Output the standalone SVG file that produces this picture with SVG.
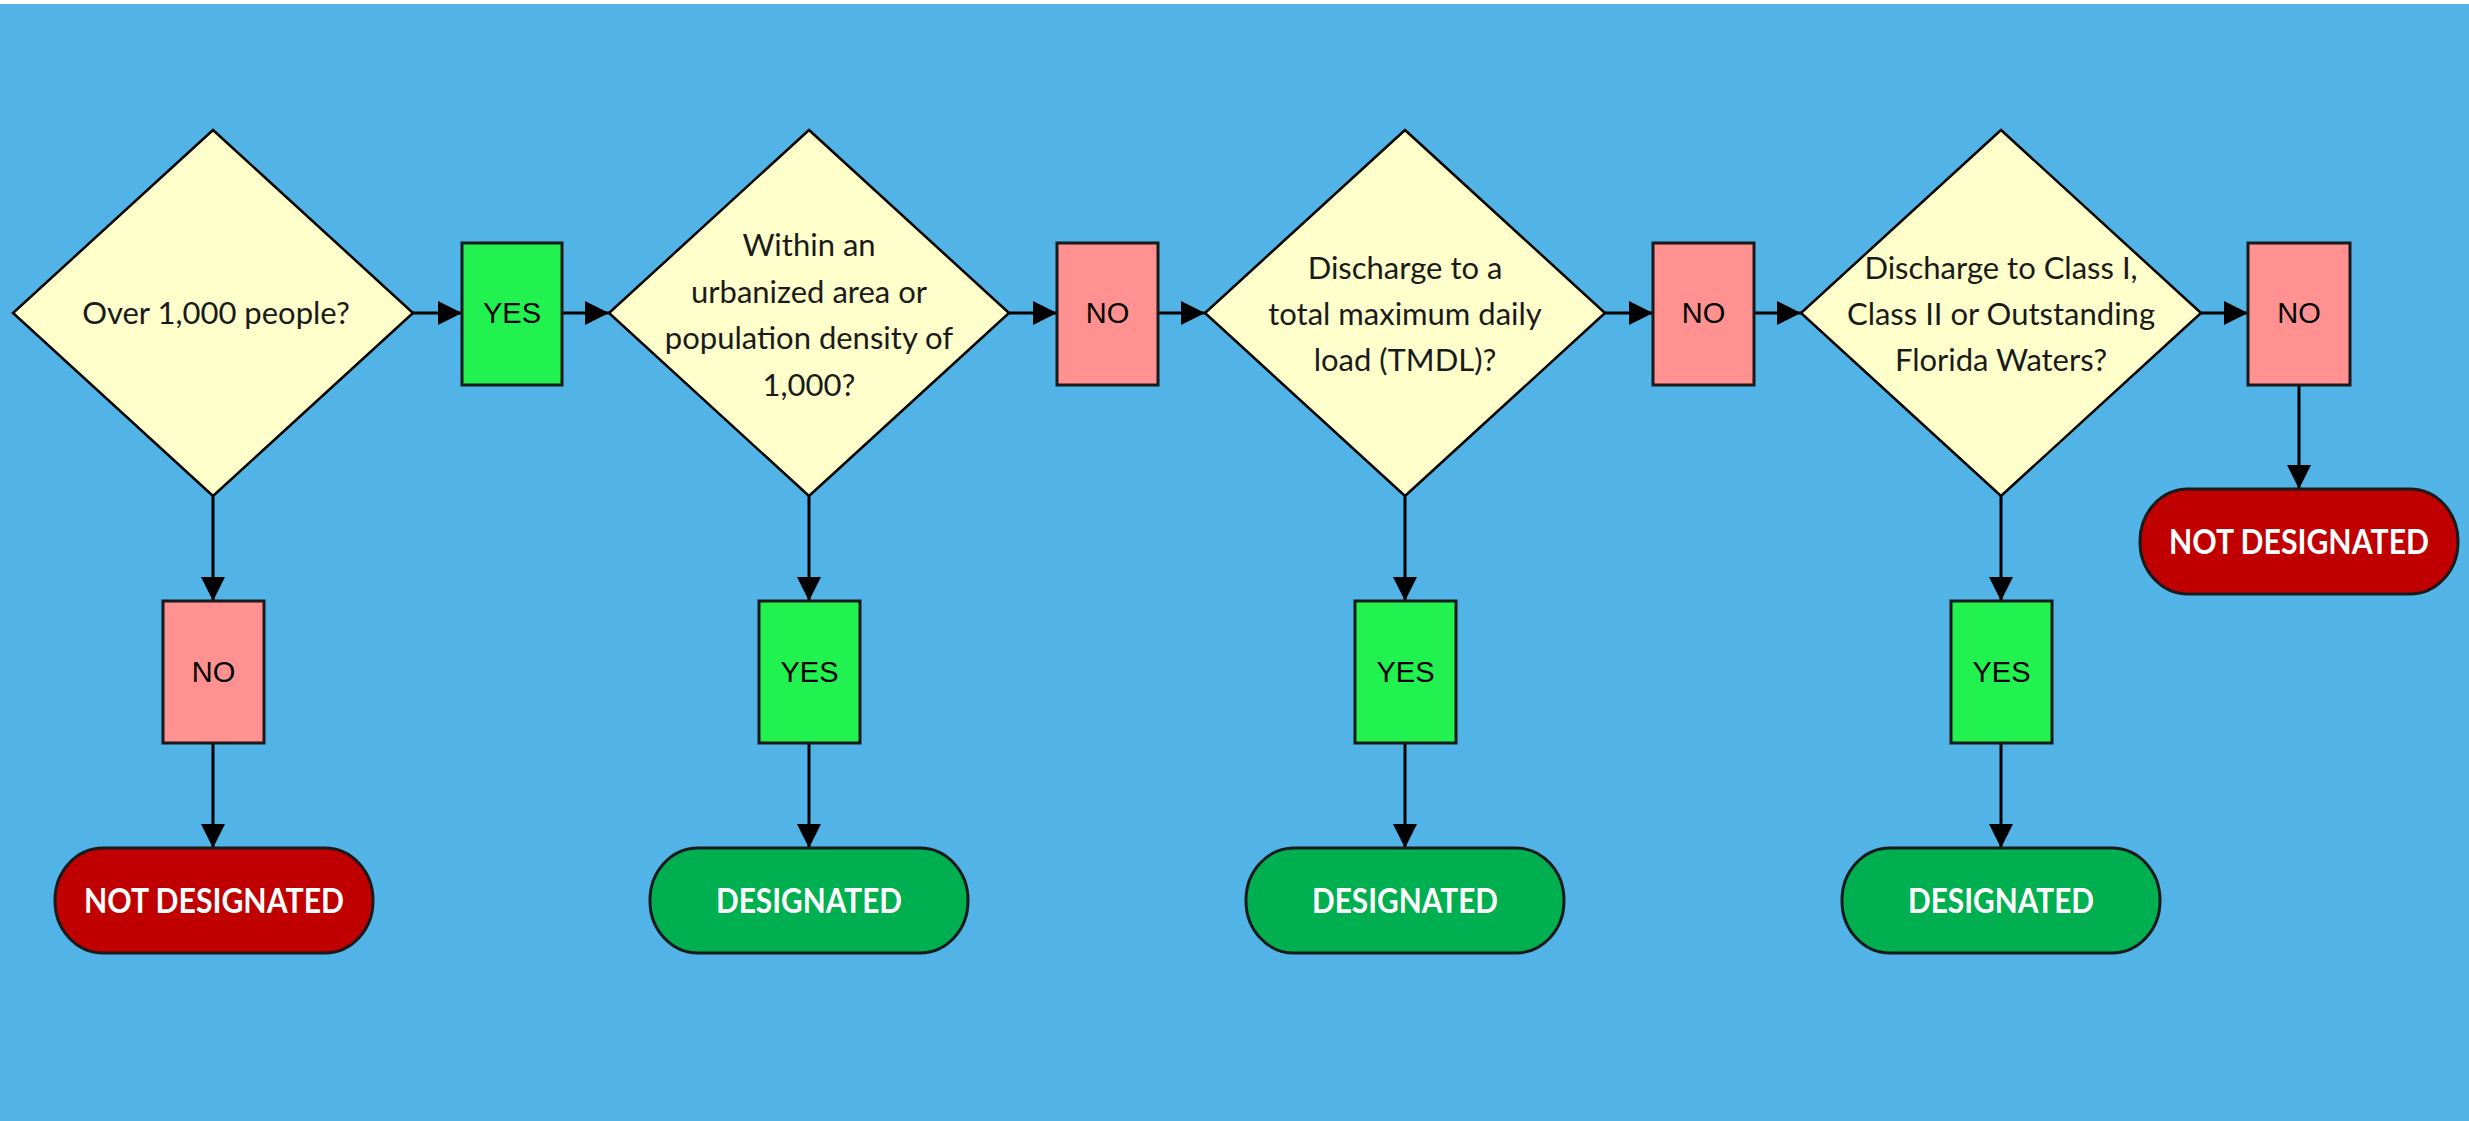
<svg xmlns="http://www.w3.org/2000/svg" width="2469" height="1121" viewBox="0 0 2469 1121">
<defs>
<marker id="ah" markerUnits="userSpaceOnUse" markerWidth="24" markerHeight="24" viewBox="0 0 24 24" refX="24" refY="12" orient="auto">
<path d="M0,0 L24,12 L0,24 z" fill="#000"/>
</marker>
</defs>
<style>
.dia{fill:#FFFFCC;stroke:#000;stroke-width:2.5}
.yes{fill:#22F24F;stroke:#1a1a1a;stroke-width:3}
.no{fill:#FF9191;stroke:#1a1a1a;stroke-width:3}
.tr{fill:#C00000;stroke:#1a1a1a;stroke-width:3}
.tg{fill:#00AF50;stroke:#1a1a1a;stroke-width:3}
.q{font-family:Lato,"Open Sans",sans-serif;font-size:31px;fill:#1a1a1a;text-anchor:middle}
.lbl{font-family:"Liberation Sans",Arial,sans-serif;font-size:29px;fill:#000;text-anchor:middle}
.term{font-family:Lato,"Open Sans",sans-serif;font-weight:bold;font-size:35px;fill:#fff;text-anchor:middle}
.c{stroke:#000;stroke-width:3;fill:none;marker-end:url(#ah)}
</style>
<rect x="0" y="0" width="2469" height="1121" fill="#51B3E6"/>
<rect x="0" y="0" width="2469" height="4" fill="#fff"/>

<g id="connectors">
<line class="c" x1="413" y1="313" x2="462" y2="313"/>
<line class="c" x1="562" y1="313" x2="609" y2="313"/>
<line class="c" x1="1009" y1="313" x2="1057" y2="313"/>
<line class="c" x1="1158" y1="313" x2="1205" y2="313"/>
<line class="c" x1="1605" y1="313" x2="1653" y2="313"/>
<line class="c" x1="1754" y1="313" x2="1801" y2="313"/>
<line class="c" x1="2201" y1="313" x2="2248" y2="313"/>
<line class="c" x1="2299" y1="385" x2="2299" y2="489"/>
<line class="c" x1="213" y1="496" x2="213" y2="601"/>
<line class="c" x1="213" y1="743" x2="213" y2="848"/>
<line class="c" x1="809" y1="496" x2="809" y2="601"/>
<line class="c" x1="809" y1="743" x2="809" y2="848"/>
<line class="c" x1="1405" y1="496" x2="1405" y2="601"/>
<line class="c" x1="1405" y1="743" x2="1405" y2="848"/>
<line class="c" x1="2001" y1="496" x2="2001" y2="601"/>
<line class="c" x1="2001" y1="743" x2="2001" y2="848"/>
</g>

<g id="q1">
<polygon class="dia" points="213,130 413,313 213,496 13,313"/>
<text class="q" x="216" y="324">Over 1,000 people?</text>
</g>
<g id="yes1">
<rect class="yes" x="462" y="243" width="100" height="142"/>
<text class="lbl" x="512" y="323">YES</text>
</g>
<g id="q2">
<polygon class="dia" points="809,130 1009,313 809,496 609,313"/>
<text class="q" x="809" y="256">Within an</text>
<text class="q" x="809" y="303">urbanized area or</text>
<text class="q" x="809" y="349">population density of</text>
<text class="q" x="809" y="396">1,000?</text>
</g>
<g id="no2">
<rect class="no" x="1057" y="243" width="101" height="142"/>
<text class="lbl" x="1107.5" y="323">NO</text>
</g>
<g id="q3">
<polygon class="dia" points="1405,130 1605,313 1405,496 1205,313"/>
<text class="q" x="1405" y="279">Discharge to a</text>
<text class="q" x="1405" y="325">total maximum daily</text>
<text class="q" x="1405" y="371">load (TMDL)?</text>
</g>
<g id="no3">
<rect class="no" x="1653" y="243" width="101" height="142"/>
<text class="lbl" x="1703.5" y="323">NO</text>
</g>
<g id="q4">
<polygon class="dia" points="2001,130 2201,313 2001,496 1801,313"/>
<text class="q" x="2001" y="279">Discharge to Class I,</text>
<text class="q" x="2001" y="325">Class II or Outstanding</text>
<text class="q" x="2001" y="371">Florida Waters?</text>
</g>
<g id="no4">
<rect class="no" x="2248" y="243" width="102" height="142"/>
<text class="lbl" x="2299" y="323">NO</text>
</g>
<g id="nd4">
<rect class="tr" x="2140" y="489" width="318" height="105" rx="48" ry="52"/>
<text class="term" x="2299" y="554" textLength="260" lengthAdjust="spacingAndGlyphs">NOT DESIGNATED</text>
</g>

<g id="no1">
<rect class="no" x="163" y="601" width="101" height="142"/>
<text class="lbl" x="213.5" y="682">NO</text>
</g>
<g id="nd1">
<rect class="tr" x="55" y="848" width="318" height="105" rx="48" ry="52"/>
<text class="term" x="214" y="913" textLength="260" lengthAdjust="spacingAndGlyphs">NOT DESIGNATED</text>
</g>
<g id="yes2">
<rect class="yes" x="759" y="601" width="101" height="142"/>
<text class="lbl" x="809.5" y="682">YES</text>
</g>
<g id="d2">
<rect class="tg" x="650" y="848" width="318" height="105" rx="48" ry="52"/>
<text class="term" x="809" y="913" textLength="186" lengthAdjust="spacingAndGlyphs">DESIGNATED</text>
</g>
<g id="yes3">
<rect class="yes" x="1355" y="601" width="101" height="142"/>
<text class="lbl" x="1405.5" y="682">YES</text>
</g>
<g id="d3">
<rect class="tg" x="1246" y="848" width="318" height="105" rx="48" ry="52"/>
<text class="term" x="1405" y="913" textLength="186" lengthAdjust="spacingAndGlyphs">DESIGNATED</text>
</g>
<g id="yes4">
<rect class="yes" x="1951" y="601" width="101" height="142"/>
<text class="lbl" x="2001.5" y="682">YES</text>
</g>
<g id="d4">
<rect class="tg" x="1842" y="848" width="318" height="105" rx="48" ry="52"/>
<text class="term" x="2001" y="913" textLength="186" lengthAdjust="spacingAndGlyphs">DESIGNATED</text>
</g>
</svg>
